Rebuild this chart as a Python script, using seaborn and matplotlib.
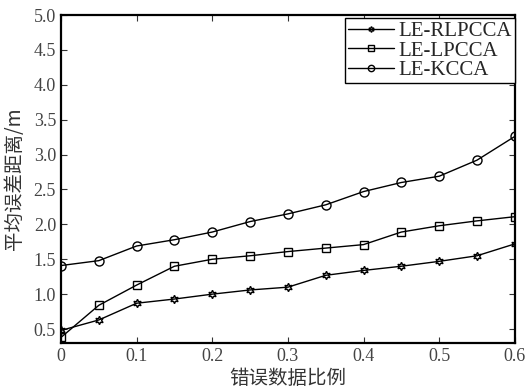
import matplotlib
matplotlib.use('Agg')
import matplotlib.pyplot as plt
import seaborn as sns
import pandas as pd

# error data ratio
ratio = [0, 0.05, 0.1, 0.15, 0.2, 0.25, 0.3, 0.35, 0.4, 0.45, 0.5, 0.55, 0.6]
rlpcca = [0.48, 0.63, 0.87, 0.93, 1.00, 1.06, 1.10, 1.27, 1.34, 1.40, 1.47, 1.55, 1.72]
lpcca = [0.38, 0.84, 1.13, 1.40, 1.50, 1.55, 1.61, 1.66, 1.71, 1.89, 1.98, 2.05, 2.11]
kcca = [1.41, 1.48, 1.69, 1.78, 1.89, 2.04, 2.15, 2.28, 2.47, 2.60, 2.69, 2.92, 3.26]
names = ['LE-RLPCCA', 'LE-LPCCA', 'LE-KCCA']
xticks = [0, 0.1, 0.2, 0.3, 0.4, 0.5, 0.6]
xticklabels = ['0', '0.1', '0.2', '0.3', '0.4', '0.5', '0.6']
yticks = [0.5, 1.0, 1.5, 2.0, 2.5, 3.0, 3.5, 4.0, 4.5, 5.0]

sns.set_style('ticks')
plt.rcParams['font.family'] = ['Liberation Serif', 'Noto Sans CJK SC']
plt.rcParams['xtick.direction'] = 'in'
plt.rcParams['ytick.direction'] = 'in'

fig = plt.figure(figsize=(5.28, 3.92), dpi=100)
ax = fig.add_axes([0.1155, 0.125, 0.8595, 0.8367])

markers = [(6, 1, 0), 's', 'o']
sizes = [6, 6, 6.5]
for vals, name, m, s in zip([rlpcca, lpcca, kcca], names, markers, sizes):
    df = pd.DataFrame({'x': ratio, 'y': vals})
    sns.lineplot(data=df, x='x', y='y', ax=ax, color='black', lw=1.0,
                 marker=m, markersize=s, markerfacecolor='none',
                 markeredgecolor='black', markeredgewidth=1.0, label=name)

ax.set_xlim(0, 0.6)
ax.set_ylim(0.3, 5.0)
ax.set_xticks(xticks)
ax.set_xticklabels(xticklabels)
ax.set_yticks(yticks)
ax.set_yticklabels([f'{v:.1f}' for v in yticks])
ax.tick_params(labelsize=13, colors='#333333', length=4, width=0.8,
               top=True, right=True, labelcolor='#444444')
for sp in ax.spines.values():
    sp.set_visible(True)
    sp.set_linewidth(1.6)
    sp.set_color('black')

ax.set_xlabel('错误数据比例', fontsize=14, family=['Noto Sans CJK SC'],
              color='#333333', labelpad=2)
ax.set_ylabel('平均误差距离/m', fontsize=14, family=['Noto Sans CJK SC', 'Liberation Serif'],
              color='#333333', labelpad=6)

leg = ax.legend(loc='upper right', bbox_to_anchor=(1.0, 0.99), fontsize=15,
                frameon=True, fancybox=False, edgecolor='black',
                borderpad=0.15, labelspacing=0.0, handlelength=2.2,
                handletextpad=0.2, borderaxespad=0.0, markerscale=0.7)
leg.get_frame().set_linewidth(1.0)
leg.get_frame().set_alpha(1)

fig.savefig('out.png', dpi=100)
